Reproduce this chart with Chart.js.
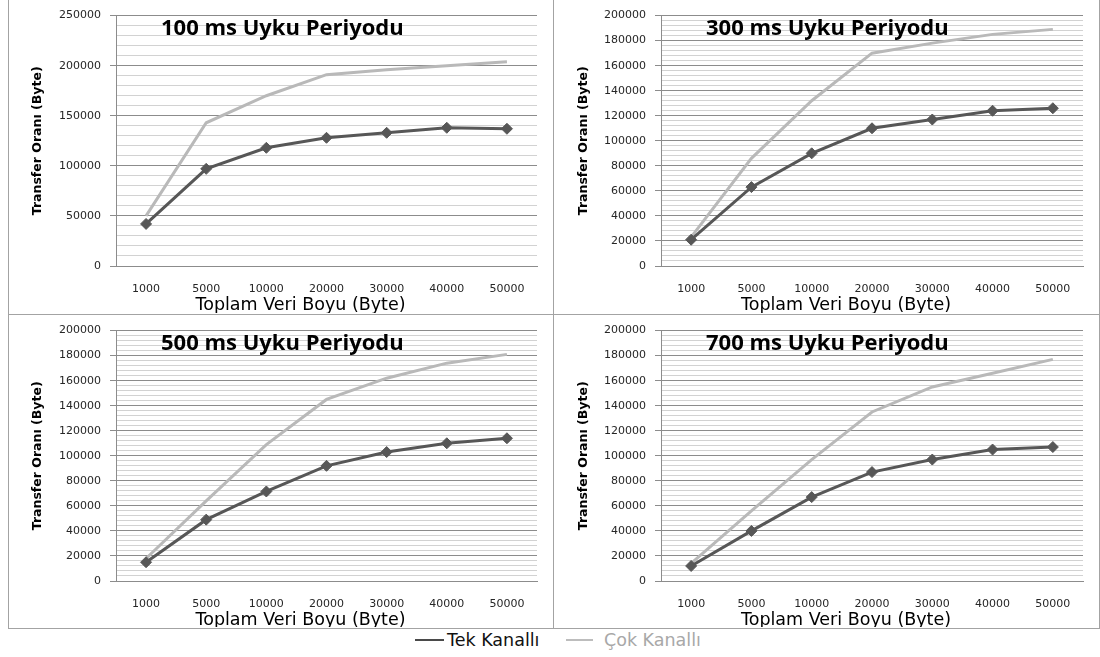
<!DOCTYPE html>
<html>
<head>
<meta charset="utf-8">
<script src="https://cdn.jsdelivr.net/npm/chart.js@4.4.1/dist/chart.umd.min.js"></script>
<style>
  html, body { margin: 0; padding: 0; background: #fff; }
  body { width: 1100px; height: 657px; position: relative; overflow: hidden; font-family: "DejaVu Sans", sans-serif; }
  .frame { position: absolute; left: 8px; top: 0; width: 1090px; height: 628px; border: 1px solid #a3a3a3; border-top: none; box-sizing: content-box; }
  .vdiv { position: absolute; left: 553px; top: 0; width: 1px; height: 628px; background: #a3a3a3; }
  .hdiv { position: absolute; left: 8px; top: 314px; width: 1092px; height: 1px; background: #a3a3a3; }
  canvas { position: absolute; }
  .lg-line { position: absolute; height: 2px; }
  .lg-text { position: absolute; font-size: 17.5px; line-height: 20px; white-space: nowrap; }
</style>
</head>
<body>
<div class="frame"></div>
<div class="vdiv"></div>
<div class="hdiv"></div>
<canvas id="c100" width="544" height="313" style="left:9px;top:0px"></canvas>
<canvas id="c300" width="543" height="313" style="left:555px;top:0px"></canvas>
<canvas id="c500" width="544" height="312" style="left:9px;top:315px"></canvas>
<canvas id="c700" width="543" height="312" style="left:555px;top:315px"></canvas>

<div class="lg-line" id="lgLine0" style="left:415px;top:639px;width:29px;background:#4a4a4a"></div>
<div class="lg-text" id="lgText0" style="left:447px;top:630px;color:#111"></div>
<div class="lg-line" id="lgLine1" style="left:566px;top:639px;width:27px;background:#bdbdbd"></div>
<div class="lg-text" id="lgText1" style="left:604px;top:630px;color:#a8a8a8"></div>

<script>
// Total data size categories (bytes)
const sizes = ['1000', '5000', '10000', '20000', '30000', '40000', '50000'];
const seriesNames = ['Tek Kanallı', 'Çok Kanallı'];
const panelTitles = ['100 ms Uyku Periyodu', '300 ms Uyku Periyodu', '500 ms Uyku Periyodu', '700 ms Uyku Periyodu'];
const xTitle = 'Toplam Veri Boyu (Byte)';
const yTitle = 'Transfer Oranı (Byte)';

// Transfer rates (bytes) per sleep period
const tek100 = [42000, 97000, 118000, 128000, 133000, 138000, 137000];
const cok100 = [50000, 143000, 170000, 191000, 196000, 200000, 204000];
const tek300 = [21000, 63000, 90000, 110000, 117000, 124000, 126000];
const cok300 = [23000, 86000, 132000, 170000, 178000, 185000, 189000];
const tek500 = [15000, 49000, 71500, 92000, 103000, 110000, 114000];
const cok500 = [18000, 64000, 109000, 145000, 162000, 174000, 181000];
const tek700 = [12000, 40000, 67000, 87000, 97000, 105000, 107000];
const cok700 = [14000, 56000, 97000, 135000, 155000, 166000, 177000];

// Axis ranges: [max, major step, minor step]
const axis100 = [250000, 50000, 10000];
const axis200 = [200000, 20000, 4000];

const TEK_COLOR = '#575757';
const COK_COLOR = '#b9b9b9';
const MAJOR_GRID = '#8c8c8c';
const MINOR_GRID = '#d2d2d2';
const TICK_COLOR = '#262626';

document.getElementById('lgText0').textContent = seriesNames[0];
document.getElementById('lgText1').textContent = seriesNames[1];

// Panel title drawn inside the plot area, x-axis caption under the labels
const panelText = {
  id: 'panelText',
  afterDraw(chart, args, opts) {
    const { ctx, chartArea } = chart;
    ctx.save();
    ctx.fillStyle = '#000';
    ctx.textBaseline = 'alphabetic';
    ctx.textAlign = 'left';
    ctx.font = 'bold 22px "Open Sans", sans-serif';
    ctx.fillText(opts.title, chartArea.left + 45, chartArea.top + 19);
    ctx.font = '17.5px "DejaVu Sans", sans-serif';
    ctx.textAlign = 'center';
    ctx.fillText(opts.xTitle, (chartArea.left + chartArea.right) / 2 - 26, chartArea.bottom + 44);
    ctx.restore();
  }
};

function makePanel(id, title, tek, cok, axis, yAxisWidth, plotRight) {
  const canvas = document.getElementById(id);
  const W = canvas.width, H = canvas.height;
  const [yMax, major, minor] = axis;
  const isMajor = (v) => v % major === 0;
  return new Chart(canvas, {
    type: 'line',
    data: {
      labels: sizes,
      datasets: [
        {
          label: seriesNames[0],
          data: tek,
          borderColor: TEK_COLOR,
          backgroundColor: TEK_COLOR,
          borderWidth: 3,
          pointStyle: 'rectRot',
          pointRadius: 5.5,
          pointBorderWidth: 1,
          pointBackgroundColor: TEK_COLOR,
          pointBorderColor: TEK_COLOR,
          tension: 0
        },
        {
          label: seriesNames[1],
          data: cok,
          borderColor: COK_COLOR,
          backgroundColor: COK_COLOR,
          borderWidth: 3,
          pointRadius: 0,
          tension: 0
        }
      ]
    },
    options: {
      responsive: false,
      animation: false,
      devicePixelRatio: 1,
      layout: { padding: { left: 0, right: W - plotRight, top: 15, bottom: 0 } },
      plugins: {
        legend: { display: false },
        tooltip: { enabled: false },
        panelText: { title: title, xTitle: xTitle }
      },
      scales: {
        x: {
          type: 'category',
          offset: true,
          grid: { display: false, drawTicks: false },
          border: { display: true, color: MAJOR_GRID, width: 1 },
          ticks: {
            color: TICK_COLOR,
            font: { family: '"DejaVu Sans", sans-serif', size: 11 },
            padding: 17,
            maxRotation: 0,
            autoSkip: false
          },
          afterFit(scale) { scale.height = H - 266; }
        },
        y: {
          type: 'linear',
          min: 0,
          max: yMax,
          grid: {
            color: (c) => (c.tick && isMajor(c.tick.value)) ? MAJOR_GRID : MINOR_GRID,
            tickColor: (c) => (c.tick && isMajor(c.tick.value)) ? MAJOR_GRID : 'rgba(0,0,0,0)',
            tickLength: 6,
            lineWidth: 1
          },
          border: { display: true, color: MAJOR_GRID, width: 1 },
          ticks: {
            stepSize: minor,
            maxTicksLimit: 200,
            autoSkip: false,
            padding: 9,
            color: TICK_COLOR,
            font: { family: '"DejaVu Sans", sans-serif', size: 11 },
            callback: (v) => isMajor(v) ? String(v) : ''
          },
          title: {
            display: true,
            text: yTitle,
            color: '#000',
            font: { family: '"DejaVu Sans", sans-serif', size: 12.5, weight: 'bold' },
            padding: { top: 21, bottom: 0 }
          },
          afterFit(scale) { scale.width = yAxisWidth; }
        }
      }
    },
    plugins: [panelText]
  });
}

function build() {
  makePanel('c100', panelTitles[0], tek100, cok100, axis100, 107, 528);
  makePanel('c300', panelTitles[1], tek300, cok300, axis200, 106, 528);
  makePanel('c500', panelTitles[2], tek500, cok500, axis200, 107, 528);
  makePanel('c700', panelTitles[3], tek700, cok700, axis200, 106, 528);
}

const fontLoads = [
  'bold 22px "Open Sans"',
  '17.5px "DejaVu Sans"',
  'bold 12.5px "DejaVu Sans"'
].map((f) => document.fonts.load(f).catch(() => null));
Promise.all(fontLoads).then(build, build);
</script>
</body>
</html>
